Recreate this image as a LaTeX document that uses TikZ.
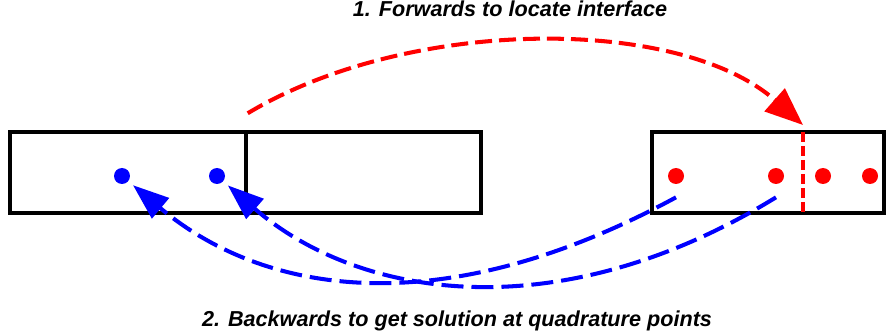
\documentclass[tikz,border=0pt]{standalone}
\usepackage{fontspec}
\setmainfont{Liberation Sans}
\usetikzlibrary{arrows.meta}

\begin{document}
\begin{tikzpicture}[
    x=0.02cm,
    y=-0.02cm,
    cell/.style={draw, line width=2pt, minimum height=1.62cm, inner sep=0pt},
    qpt/.style={circle, inner sep=0pt, minimum size=0.32cm},
    bpt/.style={qpt, fill=blue},
    rpt/.style={qpt, fill=red},
    fwd/.style={red, line width=2.3pt, dash pattern=on 0.34cm off 0.14cm,
      -{Triangle[length=0.76cm, width=0.6cm]}},
    back/.style={blue, line width=2.3pt, dash pattern=on 0.44cm off 0.16cm,
      shorten >=0.12cm, -{Triangle[length=0.72cm, width=0.52cm]}},
    iface/.style={red, line width=1.8pt, dash pattern=on 0.2cm off 0.08cm},
    lab/.style={font=\fontsize{12.3}{14}\selectfont\bfseries\itshape, anchor=base}
  ]
    \useasboundingbox (0,0) rectangle (886,334);

    % left element, split in two
    \node[cell, minimum width=4.72cm] (left1) at (128,172.5) {};
    \node[cell, minimum width=4.70cm] (left2) at (363.5,172.5) {};
    \node[bpt] (b1) at (122,176) {};
    \node[bpt] (b2) at (217,176) {};

    % right element, cut by the interface
    \node[cell, minimum width=4.64cm] (right) at (768,172.5) {};
    \node[rpt] (r1) at (676,176) {};
    \node[rpt] (r2) at (776,176) {};
    \node[rpt] (r3) at (823,176) {};
    \node[rpt] (r4) at (870,176) {};
    \coordinate (iftop) at (803,132);
    \coordinate (ifbot) at (803,213);
    \draw[iface] (iftop) -- (ifbot);

    % step 1
    \draw[fwd] ([yshift=0.34cm]left1.north east) .. controls (410,16) and (680,16) .. ([yshift=0.14cm]iftop);
    \node[lab] (fwdlab) at (510,17) {1. Forwards to locate interface};

    % step 2
    \draw[back] ([yshift=-0.26cm]r1.south) .. controls (450,320) and (270,300) .. (b1);
    \draw[back] ([yshift=-0.26cm]r2.south) .. controls (560,330) and (360,300) .. (b2);
    \node[lab] (backlab) at (457,326) {2. Backwards to get solution at quadrature points};
  \end{tikzpicture}
\end{document}
